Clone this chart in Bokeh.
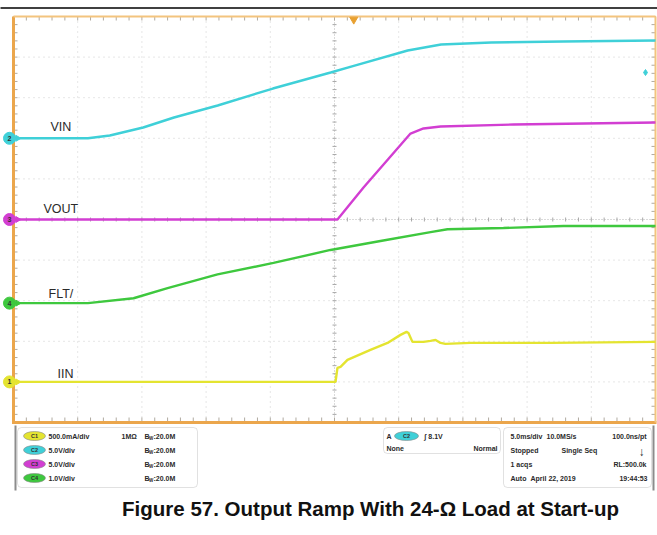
import numpy as np
from bokeh.plotting import figure
from bokeh.layouts import column
from bokeh.models import Range1d, BoxAnnotation
from bokeh.core.properties import value
from bokeh.embed import file_html
from bokeh.resources import INLINE

# ---------------- data ----------------
TIME_PER_DIV = 5.0          # ms/div
N_HDIV = 10
N_VDIV = 10

# channel: volts (or amps) per division, ground marker position (div)
IIN_SCALE, IIN_POS = 0.5, -4      # C1 500 mA/div
VIN_SCALE, VIN_POS = 5.0, 2       # C2 5 V/div
VOUT_SCALE, VOUT_POS = 5.0, 0     # C3 5 V/div
FLT_SCALE, FLT_POS = 1.0, -2.06   # C4 1 V/div
TRIG_LEVEL = 8.1                  # V on C2
TRIG_TIME = 1.5                   # ms

vin_t = [-25.0, -19.2, -17.5, -14.9, -12.5, -9.1, -4.8, -0.3, 1.5, 5.7, 8.3, 12.2, 17.8, 25.0]
vin_v = [0.0, 0.0, 0.34, 1.33, 2.56, 4.04, 6.13, 8.10, 8.92, 10.81, 11.55, 11.80, 11.92, 12.04]

vout_t = [-25.0, 0.23, 2.26, 5.92, 6.93, 8.26, 13.94, 25.0]
vout_v = [0.0, 0.0, 3.94, 10.59, 11.21, 11.45, 11.70, 11.95]

flt_t = [-25.0, -19.2, -15.65, -13.0, -9.11, -4.75, -0.31, 3.58, 7.48, 8.8, 13.16, 17.83, 25.0]
flt_v = [0.0, 0.0, 0.12, 0.37, 0.71, 0.99, 1.31, 1.53, 1.75, 1.82, 1.85, 1.90, 1.90]

iin_t = [-25.0, 0.08, 0.23, 0.47, 1.01, 2.80, 4.13, 5.14, 5.61, 5.76, 6.07, 6.93, 7.48, 7.87, 8.26, 8.64, 10.59, 16.82, 25.0]
iin_a = [0.0, 0.0, 0.172, 0.185, 0.271, 0.394, 0.480, 0.579, 0.616, 0.603, 0.493, 0.493, 0.505, 0.517, 0.480, 0.468, 0.480, 0.480, 0.493]

trace_labels = ["VIN", "VOUT", "FLT/", "IIN"]
channel_numbers = ["2", "3", "4", "1"]

ch_names = ["C1", "C2", "C3", "C4"]
ch_scale_text = ["500.0mA/div", "5.0V/div", "5.0V/div", "1.0V/div"]
bw_text = ":20.0M"
timebase_text = ["5.0ms/div", "10.0MS/s", "100.0ns/pt"]
acq_text = ["Stopped", "Single Seq", "1 acqs", "RL:500.0k"]
date_text = ["Auto", "April 22, 2019", "19:44:53"]
trig_text = ["A", "8.1V", "None", "Normal"]
title_text = "Figure 57. Output Ramp With 24-\u03a9 Load at Start-up"

# ---------------- style ----------------
CYAN = "#3fd0d8"
MAGENTA = "#d23ed2"
GREEN = "#3ec83e"
YELLOW = "#e4e430"
ORANGE = "#eba64c"
ORANGE_L = "#f3c47e"
FONT = value("Liberation Sans")

W = 657
H1 = 424
H2 = 535 - H1
PXT = 64.2 / TIME_PER_DIV   # px per ms
PXD = 40.6                  # px per div


def dx(px):
    return px / PXT


def dy(px):
    return px / PXD


def ref_t(xr):
    return (xr - 334.0) / PXT


def ref_d(yr):
    return (219.0 - yr) / PXD


half_t = TIME_PER_DIV * N_HDIV / 2
half_d = N_VDIV / 2

p = figure(width=W, height=H1,
           x_range=Range1d(-half_t - dx(13), half_t + dx(2)),
           y_range=Range1d(-half_d - dy(2), half_d + dy(16)),
           x_axis_type=None, y_axis_type=None, toolbar_location=None,
           output_backend="svg", min_border=0, title=None)
p.outline_line_color = None
p.background_fill_color = "white"
p.border_fill_color = "white"

# grid
gx = [t for t in np.arange(-half_t + TIME_PER_DIV, half_t, TIME_PER_DIV) if abs(t) > 1e-9]
gy = [d for d in np.arange(-half_d + 1, half_d, 1.0) if abs(d) > 1e-9]
p.segment(x0=gx, y0=[-half_d] * len(gx), x1=gx, y1=[half_d] * len(gx),
          line_color="#cdcdcd", line_width=1, line_dash="1 4")
p.segment(x0=[-half_t] * len(gy), y0=gy, x1=[half_t] * len(gy), y1=gy,
          line_color="#cdcdcd", line_width=1, line_dash="1 4")
# center cross
p.segment(x0=[0, -half_t], y0=[-half_d, 0], x1=[0, half_t], y1=[half_d, 0],
          line_color="#b5b5b5", line_width=1, line_dash="1 2")
t_minor = np.arange(-half_t, half_t + 0.01, TIME_PER_DIV / 5)
d_minor = np.arange(-half_d, half_d + 0.01, 0.2)
p.segment(x0=t_minor, y0=-dy(2), x1=t_minor, y1=dy(2), line_color="#a8a8a8", line_width=1)
p.segment(x0=-dx(2), y0=d_minor, x1=dx(2), y1=d_minor, line_color="#a8a8a8", line_width=1)
# border ticks
p.segment(x0=t_minor, y0=half_d, x1=t_minor, y1=half_d - dy(4), line_color="#b0aaa0", line_width=1)
p.segment(x0=t_minor, y0=-half_d, x1=t_minor, y1=-half_d + dy(5), line_color="#b0aaa0", line_width=1)
p.segment(x0=-half_t, y0=d_minor, x1=-half_t + dx(4), y1=d_minor, line_color="#b0aaa0", line_width=1)
p.segment(x0=half_t, y0=d_minor, x1=half_t - dx(4), y1=d_minor, line_color="#b0aaa0", line_width=1)
# border
p.segment(x0=[-half_t, -half_t - dx(1.5)], y0=[-half_d - dy(1.5), -half_d],
          x1=[-half_t, half_t + dx(1)], y1=[half_d, -half_d],
          line_color=ORANGE, line_width=3)
p.segment(x0=[-half_t, half_t], y0=[half_d, -half_d],
          x1=[half_t, half_t], y1=[half_d, half_d],
          line_color=ORANGE_L, line_width=2)
# black rule at top
p.segment(x0=-half_t - dx(20), y0=half_d + dy(8.5), x1=half_t + dx(20), y1=half_d + dy(8.5),
          line_color="black", line_width=1.6)

# traces
def to_div(vals, scale, pos):
    return [pos + v / scale for v in vals]

p.line(vin_t, to_div(vin_v, VIN_SCALE, VIN_POS), line_color=CYAN, line_width=2.4)
p.line(flt_t, to_div(flt_v, FLT_SCALE, FLT_POS), line_color=GREEN, line_width=2.4)
p.line(iin_t, to_div(iin_a, IIN_SCALE, IIN_POS), line_color=YELLOW, line_width=2.4)
p.line(vout_t, to_div(vout_v, VOUT_SCALE, VOUT_POS), line_color=MAGENTA, line_width=2.4)

# trace labels
p.text(x=[ref_t(50), ref_t(43), ref_t(48), ref_t(57)],
       y=[ref_d(126), ref_d(208), ref_d(293), ref_d(373)],
       text=trace_labels, text_font=FONT, text_font_size="12.5px",
       text_color="#2a2a2a", text_baseline="middle", text_align="left")

# ground markers
mk_y = [VIN_POS, VOUT_POS, FLT_POS, IIN_POS]
mk_c = [CYAN, MAGENTA, GREEN, YELLOW]
p.scatter(x=[-half_t + dx(4)] * 4, y=mk_y, marker="triangle", angle=-np.pi / 2,
          size=6, fill_color=mk_c, line_color=mk_c)
p.scatter(x=[-half_t - dx(4)] * 4, y=mk_y, marker="circle", size=12,
          fill_color=mk_c, line_color=mk_c)
p.text(x=[-half_t - dx(4)] * 4, y=mk_y, text=channel_numbers, text_font=FONT,
       text_font_size="7px", text_color="#333333", text_align="center",
       text_baseline="middle", text_font_style="bold")

# trigger markers
p.scatter(x=[TRIG_TIME], y=[half_d - dy(3)], marker="inverted_triangle", size=8,
          fill_color="#e8a030", line_color="#e8a030")
p.scatter(x=[half_t - dx(10)], y=[VIN_POS + TRIG_LEVEL / VIN_SCALE], marker="diamond",
          size=6, fill_color=CYAN, line_color=CYAN)

# ---------------- readout panel ----------------
q = figure(width=W, height=H2, x_range=Range1d(0, W), y_range=Range1d(-535, -424),
           x_axis_type=None, y_axis_type=None, toolbar_location=None,
           output_backend="svg", min_border=0, title=None)
q.outline_line_color = None
q.background_fill_color = "white"
q.border_fill_color = "white"


def X(xr):
    return xr


def Y(yr):
    return -yr

q.segment(x0=[X(15), X(653)], y0=[Y(425), Y(425)], x1=[X(15), X(653)], y1=[Y(490), Y(490)],
          line_color="#8c8c8c", line_width=2)

for (l, r, t, b) in [(17, 197, 427, 487), (383, 500, 427, 453), (503, 651, 427, 487)]:
    q.add_layout(BoxAnnotation(left=X(l), right=X(r), top=Y(t), bottom=Y(b),
                               fill_color=None, line_color="#9a9a9a", line_width=1,
                               border_radius=4))

rows = [435.5, 449.5, 463.5, 477.5]
pill_c = [YELLOW, CYAN, MAGENTA, GREEN]
q.ellipse(x=[X(34)] * 4, y=[Y(r) for r in rows], width=22, height=9,
          fill_color=pill_c, line_color="#888888", line_width=0.6)
q.text(x=[X(34)] * 4, y=[Y(r) for r in rows], text=ch_names, text_font=FONT,
       text_font_size="5.5px", text_color="#333333", text_align="center",
       text_baseline="middle", text_font_style="bold")
TXT = dict(text_font=FONT, text_font_size="7px", text_color="#2a2a2a",
           text_baseline="middle", text_font_style="bold")
q.text(x=[X(48)] * 4, y=[Y(r) for r in rows], text=ch_scale_text, text_align="left", **TXT)
q.text(x=[X(121)], y=[Y(rows[0])], text=["1M\u03a9"], text_align="left", **TXT)
q.text(x=[X(144)] * 4, y=[Y(r) for r in rows], text=["B"] * 4, text_align="left", **TXT)
q.text(x=[X(148.5)] * 4, y=[Y(r + 2) for r in rows], text=["W"] * 4, text_align="left",
       text_font=FONT, text_font_size="4.5px", text_color="#2a2a2a",
       text_baseline="middle", text_font_style="bold")
q.text(x=[X(153)] * 4, y=[Y(r) for r in rows], text=[bw_text] * 4, text_align="left", **TXT)

# trigger box
q.ellipse(x=[X(406)], y=[Y(435.5)], width=24, height=9, fill_color=CYAN,
          line_color="#888888", line_width=0.6)
q.text(x=[X(406)], y=[Y(435.5)], text=["C2"], text_font=FONT, text_font_size="5.5px",
       text_color="#333333", text_align="center", text_baseline="middle",
       text_font_style="bold")
q.text(x=[X(386), X(424), X(386)], y=[Y(435.5), Y(435.5), Y(447.5)],
       text=[trig_text[0], "\u222b " + trig_text[1], trig_text[2]], text_align="left", **TXT)
q.text(x=[X(497)], y=[Y(447.5)], text=[trig_text[3]], text_align="right", **TXT)

# acquisition box
q.text(x=[X(510), X(546), X(510), X(561), X(510), X(510), X(530)],
       y=[Y(435.5), Y(435.5), Y(449.5), Y(449.5), Y(463.5), Y(477.5), Y(477.5)],
       text=[timebase_text[0], timebase_text[1], acq_text[0], acq_text[1], acq_text[2],
             date_text[0], date_text[1]], text_align="left", **TXT)
q.text(x=[X(646), X(646), X(647)], y=[Y(435.5), Y(463.5), Y(477.5)],
       text=[timebase_text[2], acq_text[3], date_text[2]], text_align="right", **TXT)
q.text(x=[X(641)], y=[Y(451)], text=["\u2193"], text_align="center",
       text_font=FONT, text_font_size="12px", text_color="#2a2a2a",
       text_baseline="middle", text_font_style="bold")

# caption
q.text(x=[X(370)], y=[Y(508)], text=[title_text], text_font=FONT, text_font_size="20.5px",
       text_color="#111111", text_align="center", text_baseline="middle",
       text_font_style="bold")

layout = column(p, q, spacing=0)
open("out.html", "w").write(file_html(layout, INLINE))
